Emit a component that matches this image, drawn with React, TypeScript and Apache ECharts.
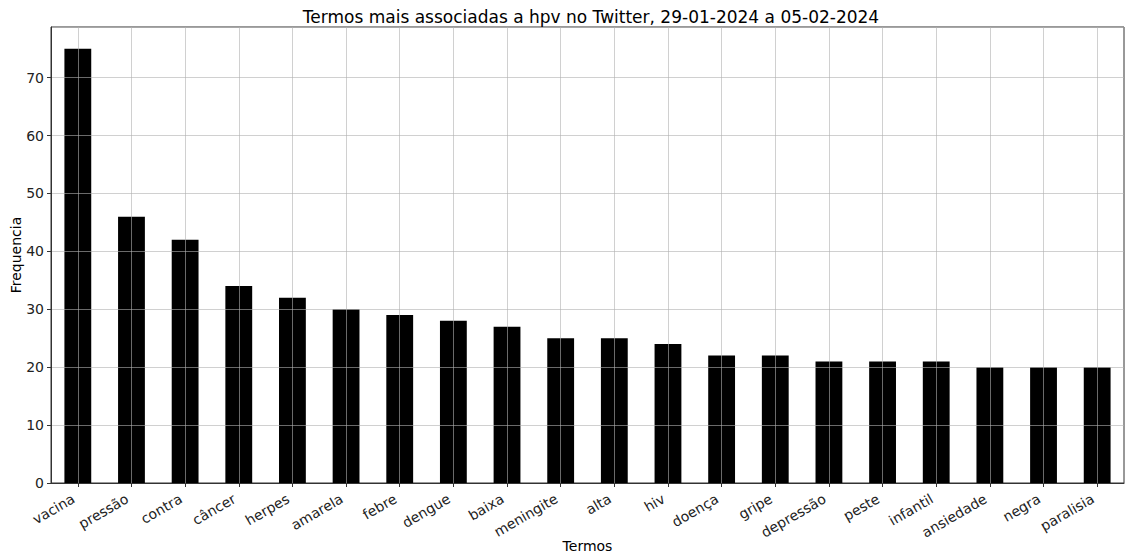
import React, { useEffect, useRef } from "react";
import * as echarts from "echarts";

const categories = [
  "vacina", "pressão", "contra", "câncer", "herpes", "amarela", "febre", "dengue", "baixa", "meningite",
  "alta", "hiv", "doença", "gripe", "depressão", "peste", "infantil", "ansiedade", "negra", "paralisia",
];
const values = [75, 46, 42, 34, 32, 30, 29, 28, 27, 25, 25, 24, 22, 22, 21, 21, 21, 20, 20, 20];
const titleText = "Termos mais associadas a hpv no Twitter, 29-01-2024 a 05-02-2024";
const xName = "Termos";
const yName = "Frequencia";

const FONT = "DejaVu Sans";
const GRIDLINE = "rgba(176,176,176,0.6)";

// half-step positions used only to place vertical grid lines at the bar centres
const halfSteps: string[] = [];
for (let i = 0; i <= categories.length * 2; i++) halfSteps.push(String(i));

export default function App() {
  const ref = useRef<HTMLDivElement>(null);
  useEffect(() => {
    if (!ref.current) return;
    const chart = echarts.init(ref.current, null, { renderer: "svg" });
    chart.setOption({
      animation: false,
      backgroundColor: "#ffffff",
      textStyle: { fontFamily: FONT },
      title: {
        text: titleText,
        left: 586,
        top: 3,
        textAlign: "center",
        textStyle: { fontFamily: FONT, fontSize: 17, fontWeight: "normal", color: "#000" },
      },
      grid: {
        left: 51,
        right: 1,
        top: 27,
        bottom: 74,
        show: true,
        borderColor: "#333",
        borderWidth: 1,
        backgroundColor: "transparent",
        outerBoundsMode: "none",
        containLabel: false,
      },
      xAxis: [
        {
          type: "category",
          data: categories,
          z: 5,
          boundaryGap: true,
          name: xName,
          nameLocation: "middle",
          nameGap: 56,
          nameMoveOverlap: false,
          nameTextStyle: { fontFamily: FONT, fontSize: 14, color: "#000" },
          axisLine: { show: true, lineStyle: { color: "#333", width: 1 } },
          axisTick: { show: true, alignWithLabel: true, length: 4, lineStyle: { color: "#333" } },
          axisLabel: {
            interval: 0,
            rotate: 30,
            margin: 12,
            padding: [0, 5, 0, 0],
            fontFamily: FONT,
            fontSize: 14,
            color: "#222",
          },
          splitLine: { show: false },
        },
        {
          type: "category",
          data: halfSteps,
          z: 5,
          boundaryGap: false,
          position: "bottom",
          axisLine: { show: false },
          axisTick: { show: false },
          axisLabel: { show: false },
          splitLine: {
            show: true,
            interval: (index: number) => index % 2 === 1,
            lineStyle: { color: GRIDLINE, width: 1 },
          },
        },
      ],
      yAxis: {
        type: "value",
        min: 0,
        max: 78.75,
        interval: 10,
        z: 5,
        name: yName,
        nameLocation: "middle",
        nameGap: 28,
        nameMoveOverlap: false,
        nameRotate: 90,
        nameTextStyle: { fontFamily: FONT, fontSize: 14, color: "#000" },
        axisLine: { show: true, lineStyle: { color: "#333", width: 1 } },
        axisTick: { show: true, length: 4, lineStyle: { color: "#333" } },
        axisLabel: {
          margin: 7,
          fontFamily: FONT,
          fontSize: 14,
          color: "#222",
          showMaxLabel: false,
          formatter: (v: number) => (v % 10 === 0 ? String(v) : ""),
        },
        splitLine: { show: true, lineStyle: { color: GRIDLINE, width: 1 } },
      },
      series: [
        {
          type: "bar",
          xAxisIndex: 0,
          data: values,
          barWidth: "50%",
          itemStyle: { color: "#000000" },
          z: 2,
        },
      ],
    });
    return () => chart.dispose();
  }, []);
  return (
    <div
      ref={ref}
      style={{ position: "fixed", left: 0, top: 0, width: 1125, height: 557, background: "#fff" }}
    />
  );
}
